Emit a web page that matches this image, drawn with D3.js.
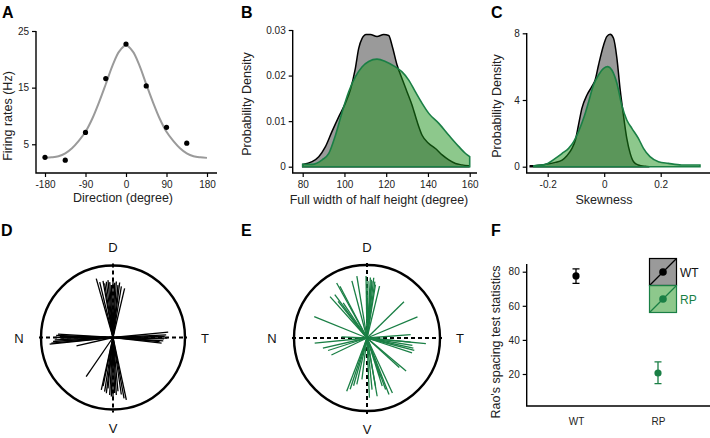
<!DOCTYPE html>
<html>
<head>
<meta charset="utf-8">
<script src="https://cdn.jsdelivr.net/npm/d3@7"></script>
<style>
  body { margin: 0; background: #fff; }
  svg { display: block; font-family: "Liberation Sans", Arial, sans-serif; }
  .tick text { font-size: 10px; fill: #222; }
  .tick line { stroke: #000; stroke-width: 1.2; }
</style>
</head>
<body>
<svg id="fig" width="710" height="438"></svg>
<script>
// ---- data ----
// A: tuning curve
var dirDeg = [-180, -135, -90, -45, 0, 45, 90, 135];
var firingHz = [2.7, 2.2, 7.1, 16.6, 22.7, 15.3, 8.0, 5.2];
var fitDeg = [-180, -165, -150, -135, -120, -105, -90, -75, -60, -45, -30, -15, 0, 15, 30, 45, 60, 75, 90, 105, 120, 135, 150, 165, 180];
var fitHz = [2.6, 2.7, 2.9, 3.4, 4.3, 5.6, 7.2, 9.5, 12.4, 15.6, 18.9, 21.4, 22.5, 21.4, 18.9, 15.6, 12.4, 9.5, 7.2, 5.6, 4.3, 3.4, 2.9, 2.7, 2.6];

// B: full width of half height densities
var fwhhWTx = [80, 84.5, 87.7, 90.9, 94, 97.3, 100.4, 102.8, 105.2, 106.8, 108.4, 110.4, 112.4, 115.6, 118.8, 121.2, 122.8, 125.2, 127.6, 130, 132.4, 134.8, 137.2, 140.4, 143.6, 146.8, 150, 153.2, 156.4, 159.6];
var fwhhWTy = [0.0005, 0.0011, 0.0022, 0.0044, 0.0077, 0.011, 0.0139, 0.0168, 0.0215, 0.0259, 0.0281, 0.029, 0.029, 0.0286, 0.029, 0.0288, 0.0266, 0.0223, 0.0193, 0.0164, 0.0135, 0.0099, 0.0069, 0.0051, 0.004, 0.0026, 0.0015, 0.0007, 0.0004, 0.0002];
var fwhhRPx = [80, 84.5, 89.3, 92.5, 95.7, 98.9, 102, 105.2, 108.4, 111.6, 115.6, 119.6, 124.4, 127.6, 130.8, 134, 137.2, 140.4, 145.2, 150, 154.8, 158, 160];
var fwhhRPy = [0.0005, 0.0005, 0.0015, 0.0029, 0.0069, 0.012, 0.0164, 0.0197, 0.0219, 0.0231, 0.0236, 0.0231, 0.0219, 0.0208, 0.019, 0.0164, 0.0139, 0.0117, 0.0095, 0.0069, 0.0044, 0.0029, 0.0022];

// C: skewness densities
var skewWTx = [-0.262, -0.208, -0.173, -0.149, -0.132, -0.114, -0.102, -0.091, -0.079, -0.061, -0.044, -0.032, -0.02, -0.002, 0.009, 0.021, 0.033, 0.045, 0.056, 0.068, 0.08, 0.092, 0.104, 0.121, 0.145, 0.16];
var skewWTy = [0.05, 0.14, 0.26, 0.4, 0.66, 1.1, 1.6, 2.5, 3.5, 4.3, 4.8, 5.2, 6.1, 7.3, 7.8, 7.94, 7.7, 6.5, 4.7, 3.1, 1.7, 0.8, 0.3, 0.1, 0.02, 0];
var skewRPx = [-0.249, -0.208, -0.173, -0.149, -0.126, -0.108, -0.091, -0.073, -0.055, -0.038, -0.02, -0.002, 0.013, 0.027, 0.045, 0.062, 0.08, 0.098, 0.121, 0.139, 0.162, 0.192, 0.227, 0.274, 0.339];
var skewRPy = [0.06, 0.14, 0.5, 0.8, 1.1, 1.5, 2.1, 2.9, 3.9, 4.9, 5.5, 5.9, 6.0, 5.8, 5.0, 3.7, 2.8, 2.3, 1.7, 1.1, 0.6, 0.3, 0.2, 0.1, 0.1];

// D / E: preferred directions (deg, counter-clockwise from T) and lengths (fraction of radius)
var wtAngle = [105.9, 103.5, 100, 98.7, 96.8, 95, 93.4, 91.8, 90, 88.2, 86.6, 84.6, 83.1, 80.7, 76.7,
  257.4, 258.5, 261.2, 263.2, 264.4, 266.7, 268.4, 270, 271.7, 273.3, 275.3, 278.3, 280.3, 282.1, 235.6,
  186, 185.3, 183.8, 182.3, 178, 176.5, 178.9, 180.7, 192.8, 180,
  5.5, 2.9, 1.1, 358.5, 356.2, 353.3, 355.1, 359.3];
var wtLength = [0.85, 0.79, 0.8, 0.76, 0.78, 0.8, 0.77, 0.73, 0.79, 0.76, 0.78, 0.73, 0.77, 0.72, 0.7,
  0.745, 0.69, 0.76, 0.78, 0.71, 0.8, 0.82, 0.84, 0.77, 0.8, 0.75, 0.8, 0.86, 0.885, 0.66,
  0.885, 0.86, 0.835, 0.81, 0.79, 0.765, 0.74, 0.72, 0.52, 0.81,
  0.77, 0.74, 0.72, 0.71, 0.7, 0.68, 0.65, 0.755];
var rpAngle = [118.9, 117.6, 104.8, 99.3, 90.9, 89, 86.8, 85.7, 84.9, 83.6, 82.1, 81, 76.4, 131.8, 126.6, 128.2, 124.2, 157.9,
  44.5, 22.8, 4.4, 354.5, 350.7, 347.6, 345.2, 341.7, 354.7, 319.9, 317.5,
  294.8, 291.3, 289.9, 287.6, 288.9, 249.1, 251.8, 254.3, 257.6, 263, 272.3, 275.6, 280, 279.9,
  185.5, 193, 205.5, 197.8, 177.7];
var rpLength = [0.86, 0.8, 0.81, 0.86, 0.85, 0.78, 0.83, 0.8, 0.78, 0.83, 0.78, 0.74, 0.73, 0.76, 0.74, 0.64, 0.58, 0.78,
  0.71, 0.75, 0.6, 0.81, 0.63, 0.65, 0.67, 0.65, 0.6, 0.7, 0.6,
  0.83, 0.83, 0.75, 0.69, 0.57, 0.78, 0.74, 0.68, 0.65, 0.57, 0.82, 0.71, 0.67, 0.81,
  0.72, 0.62, 0.54, 0.56, 0.35];

// F: Rao's spacing test
var groups = ["WT", "RP"];
var raoMean = [77.5, 20.6];
var raoLow = [73.2, 14.4];
var raoHigh = [81.6, 27.1];

var green = "#1a7f45";
var greenFill = "rgb(28,146,26)";
var svg = d3.select("#fig");

function panelLabel(t, x, y) {
  svg.append("text").attr("x", x).attr("y", y).text(t)
    .attr("font-size", 16).attr("font-weight", "bold");
}

function axisTitle(t, x, y, rotate) {
  var el = svg.append("text").text(t).attr("font-size", 12.5).attr("fill", "#222")
    .attr("text-anchor", "middle");
  if (rotate) el.attr("transform", "translate(" + x + "," + y + ") rotate(-90)");
  else el.attr("x", x).attr("y", y);
}

// draws ticks, then the L-shaped axis lines
function axes(x, y, xv, yv, xf, yf, box) {
  svg.append("g").attr("transform", "translate(0," + box.bottom + ")")
    .call(d3.axisBottom(x).tickValues(xv).tickFormat(xf).tickSize(4).tickPadding(4))
    .call(function(g) { g.select(".domain").remove(); });
  svg.append("g").attr("transform", "translate(" + box.left + ",0)")
    .call(d3.axisLeft(y).tickValues(yv).tickFormat(yf).tickSize(4).tickPadding(3))
    .call(function(g) { g.select(".domain").remove(); });
  svg.append("path")
    .attr("d", "M" + box.left + "," + box.top + "V" + box.bottom + "H" + box.right)
    .attr("fill", "none").attr("stroke", "#000").attr("stroke-width", 1.4);
}

function plain(d) { return String(d); }

// ---------- A ----------
panelLabel("A", 2, 18);
var xA = d3.scaleLinear().domain([-180, 180]).range([45, 207]);
var yA = d3.scaleLinear().domain([0, 25]).range([172.6, 31]);
axes(xA, yA, [-180, -90, 0, 90, 180], [5, 15, 25], plain, plain, {left: 36, top: 31, bottom: 173, right: 217});
svg.append("path")
  .datum(d3.zip(fitDeg, fitHz))
  .attr("d", d3.line().x(function(d) { return xA(d[0]); }).y(function(d) { return yA(d[1]); }).curve(d3.curveCatmullRom))
  .attr("fill", "none").attr("stroke", "#9a9a9a").attr("stroke-width", 2);
svg.selectAll(".ptA").data(d3.zip(dirDeg, firingHz)).enter().append("circle")
  .attr("cx", function(d) { return xA(d[0]); }).attr("cy", function(d) { return yA(d[1]); })
  .attr("r", 2.6).attr("fill", "#000");
axisTitle("Direction (degree)", 123, 202);
axisTitle("Firing rates (Hz)", 11.5, 116, true);

// ---------- B ----------
panelLabel("B", 241, 18);
var xB = d3.scaleLinear().domain([80, 160]).range([302.7, 469.7]);
var yB = d3.scaleLinear().domain([0, 0.03]).range([166.7, 30]);
axes(xB, yB, [80, 100, 120, 140, 160], [0, 0.01, 0.02, 0.03], plain,
  function(d) { return d === 0 ? "0" : d3.format(".2f")(d); }, {left: 292.7, top: 30, bottom: 173, right: 477});
var areaB = d3.area().x(function(d) { return xB(d[0]); }).y0(yB(0)).y1(function(d) { return yB(d[1]); }).curve(d3.curveMonotoneX);
svg.append("path").datum(d3.zip(fwhhWTx, fwhhWTy)).attr("d", areaB)
  .attr("fill", "#9a9a9a").attr("stroke", "#000").attr("stroke-width", 1.5);
svg.append("path").datum(d3.zip(fwhhRPx, fwhhRPy)).attr("d", areaB)
  .attr("fill", greenFill).attr("fill-opacity", 0.5).attr("stroke", green).attr("stroke-width", 1.6);
axisTitle("Full width of half height (degree)", 379, 204);
axisTitle("Probability Density", 251, 104, true);

// ---------- C ----------
panelLabel("C", 491, 18);
var xC = d3.scaleLinear().domain([-0.2, 0.2]).range([547.7, 660.7]);
var yC = d3.scaleLinear().domain([0, 8]).range([166.7, 33.3]);
axes(xC, yC, [-0.2, 0, 0.2], [0, 4, 8], plain, plain, {left: 526.7, top: 33, bottom: 173, right: 710});
var areaC = d3.area().x(function(d) { return xC(d[0]); }).y0(yC(0)).y1(function(d) { return yC(d[1]); }).curve(d3.curveMonotoneX);
svg.append("path").datum(d3.zip(skewWTx, skewWTy)).attr("d", areaC)
  .attr("fill", "#9a9a9a").attr("stroke", "#000").attr("stroke-width", 1.5);
svg.append("path").datum(d3.zip(skewRPx, skewRPy)).attr("d", areaC)
  .attr("fill", greenFill).attr("fill-opacity", 0.5).attr("stroke", green).attr("stroke-width", 1.6);
axisTitle("Skewness", 604, 204);
axisTitle("Probability Density", 501, 106, true);

// ---------- D / E polar ----------
function polar(cx, cy, R, angles, lengths, color) {
  var r = d3.scaleLinear().domain([0, 1]).range([0, R]);
  var g = svg.append("g").attr("transform", "translate(" + cx + "," + cy + ")");
  g.append("line").attr("x1", -R - 2).attr("x2", R + 2).attr("y1", 0).attr("y2", 0)
    .attr("stroke", "#000").attr("stroke-width", 2).attr("stroke-dasharray", "4,3");
  g.append("line").attr("y1", -R - 2).attr("y2", R + 3).attr("x1", 0).attr("x2", 0)
    .attr("stroke", "#000").attr("stroke-width", 2).attr("stroke-dasharray", "4,3");
  g.selectAll(".vec").data(d3.zip(angles, lengths)).enter().append("line")
    .attr("x1", 0).attr("y1", 0)
    .attr("x2", function(d) { return r(d[1]) * Math.cos(d[0] * Math.PI / 180); })
    .attr("y2", function(d) { return -r(d[1]) * Math.sin(d[0] * Math.PI / 180); })
    .attr("stroke", color).attr("stroke-width", 1.3);
  g.append("circle").attr("r", R).attr("fill", "none").attr("stroke", "#000").attr("stroke-width", 2.4);
  var lab = [["D", 0, -R - 13.5], ["V", 0, R + 23], ["N", -R - 22, 5], ["T", R + 20, 5]];
  g.selectAll(".dir").data(lab).enter().append("text")
    .attr("x", function(d) { return d[1]; }).attr("y", function(d) { return d[2]; })
    .attr("text-anchor", "middle").attr("font-size", 13).attr("fill", "#111")
    .text(function(d) { return d[0]; });
}
panelLabel("D", 1, 235.5);
polar(113, 337.5, 72, wtAngle, wtLength, "#000");
panelLabel("E", 241, 235.5);
polar(367, 338, 73, rpAngle, rpLength, green);

// ---------- F ----------
panelLabel("F", 491, 235.5);
var xF = d3.scalePoint().domain(groups).range([576, 658]);
var yF = d3.scaleLinear().domain([0, 80]).range([408.1, 271.7]);
svg.append("g").attr("transform", "translate(0,406)")
  .call(d3.axisBottom(xF).tickSize(0).tickPadding(12))
  .call(function(g) {
    g.select(".domain").remove();
    g.selectAll("text").attr("font-size", 9.5).attr("fill", function(d) { return d === "RP" ? green : "#222"; });
  });
svg.append("g").attr("transform", "translate(526.7,0)")
  .call(d3.axisLeft(yF).tickValues([20, 40, 60, 80]).tickSize(4).tickPadding(3))
  .call(function(g) { g.select(".domain").remove(); });
svg.append("path").attr("d", "M526.7,264V406H710").attr("fill", "none").attr("stroke", "#000").attr("stroke-width", 1.4);
var colF = ["#000", green];
groups.forEach(function(k, i) {
  var x = xF(k);
  svg.append("path")
    .attr("d", "M" + (x - 3.5) + "," + yF(raoHigh[i]) + "H" + (x + 3.5) + "M" + x + "," + yF(raoHigh[i]) +
      "V" + yF(raoLow[i]) + "M" + (x - 3.5) + "," + yF(raoLow[i]) + "H" + (x + 3.5))
    .attr("stroke", colF[i]).attr("stroke-width", 1.3).attr("fill", "none");
  svg.append("circle").attr("cx", x).attr("cy", yF(raoMean[i])).attr("r", 3.6).attr("fill", colF[i]);
});
axisTitle("Rao's spacing test statistics", 500, 342, true);

// legend
var legFill = ["#9a9a9a", greenFill], legOp = [1, 0.5];
groups.forEach(function(k, i) {
  var x0 = 649.5, y0 = 258.5 + i * 27, s = 27;
  svg.append("rect").attr("x", x0).attr("y", y0).attr("width", s).attr("height", s)
    .attr("fill", legFill[i]).attr("fill-opacity", legOp[i]).attr("stroke", colF[i]).attr("stroke-width", 1.2);
  svg.append("line").attr("x1", x0).attr("y1", y0 + s).attr("x2", x0 + s).attr("y2", y0)
    .attr("stroke", colF[i]).attr("stroke-width", 1.3);
  svg.append("circle").attr("cx", x0 + s / 2).attr("cy", y0 + s / 2).attr("r", 3.8).attr("fill", colF[i]);
  svg.append("text").attr("x", x0 + s + 3.5).attr("y", y0 + s / 2 + 4.5).text(k)
    .attr("font-size", 12).attr("fill", i === 0 ? "#111" : green);
});
</script>
</body>
</html>
